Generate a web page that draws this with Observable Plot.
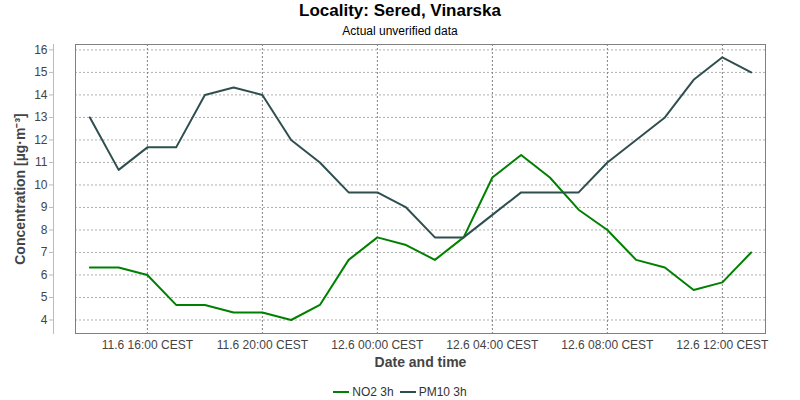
<!DOCTYPE html>
<html>
<head>
<meta charset="utf-8">
<script src="https://cdn.jsdelivr.net/npm/d3@7"></script>
<script src="https://cdn.jsdelivr.net/npm/@observablehq/plot@0.6"></script>
<style>
  html, body { margin: 0; padding: 0; background: #fff; }
  body { width: 800px; height: 400px; overflow: hidden; font-family: "Liberation Sans", Arial, sans-serif; }
  #title { height: 22px; line-height: 22px; text-align: center; font-size: 17px; font-weight: bold; color: #000; }
  #subtitle { height: 18px; line-height: 18px; text-align: center; font-size: 12px; color: #000; }
  #legend { height: 22px; line-height: 22px; text-align: center; font-size: 12px; color: #333; }
  .item { display: inline-flex; align-items: center; margin: 0 3px; }
  .sw { display: inline-block; width: 16px; height: 2px; margin-right: 3px; }
  svg { display: block; }
</style>
</head>
<body>
<div id="title">Locality: Sered, Vinarska</div>
<div id="subtitle">Actual unverified data</div>
<div id="chart"></div>
<div id="legend"></div>
<script>
// Hourly timestamps (local CEST, stored as UTC for display)
const times = [
  "2024-06-11T14:00Z","2024-06-11T15:00Z","2024-06-11T16:00Z","2024-06-11T17:00Z",
  "2024-06-11T18:00Z","2024-06-11T19:00Z","2024-06-11T20:00Z","2024-06-11T21:00Z",
  "2024-06-11T22:00Z","2024-06-11T23:00Z","2024-06-12T00:00Z","2024-06-12T01:00Z",
  "2024-06-12T02:00Z","2024-06-12T03:00Z","2024-06-12T04:00Z","2024-06-12T05:00Z",
  "2024-06-12T06:00Z","2024-06-12T07:00Z","2024-06-12T08:00Z","2024-06-12T09:00Z",
  "2024-06-12T10:00Z","2024-06-12T11:00Z","2024-06-12T12:00Z","2024-06-12T13:00Z"
];
const no2 = [6.33, 6.33, 6, 4.67, 4.67, 4.33, 4.33, 4, 4.67, 6.67, 7.67, 7.33,
             6.67, 7.67, 10.33, 11.33, 10.33, 8.9, 8, 6.67, 6.33, 5.33, 5.67, 7];
const pm10 = [13, 10.67, 11.67, 11.67, 14, 14.33, 14, 12, 11, 9.67, 9.67, 9,
              7.67, 7.67, 8.67, 9.67, 9.67, 9.67, 11, 12, 13, 14.67, 15.67, 15];
const seriesNames = ["NO2 3h", "PM10 3h"];
const seriesColors = ["#008000", "#2f4f4f"];
const xDomain = ["2024-06-11T13:30Z", "2024-06-12T13:30Z"];
const xTicks = ["2024-06-11T16:00Z","2024-06-11T20:00Z","2024-06-12T00:00Z",
                "2024-06-12T04:00Z","2024-06-12T08:00Z","2024-06-12T12:00Z"];
const yTicks = [4, 5, 6, 7, 8, 9, 10, 11, 12, 13, 14, 15, 16];
const yDomain = [3.4, 16.24];
const yLabel = "Concentration [µg·m⁻³]";
const xLabel = "Date and time";

const data = [];
times.forEach((t, i) => {
  data.push({time: new Date(t), value: no2[i], series: seriesNames[0]});
});
times.forEach((t, i) => {
  data.push({time: new Date(t), value: pm10[i], series: seriesNames[1]});
});
const tickDates = xTicks.map(d => new Date(d));
const fmt = d3.utcFormat("%-d.%-m %H:%M");

const chart = Plot.plot({
  width: 800,
  height: 338,
  marginLeft: 75,
  marginRight: 35,
  marginTop: 4,
  marginBottom: 45,
  style: {fontFamily: "'Liberation Sans', Arial, sans-serif", fontSize: "12px", color: "#444", background: "#fff"},
  x: {type: "utc", domain: xDomain.map(d => new Date(d))},
  y: {domain: yDomain},
  color: {domain: seriesNames, range: seriesColors},
  marks: [
    Plot.gridY(yTicks, {stroke: "#b0b0b0", strokeOpacity: 1, strokeDasharray: "2,2"}),
    Plot.gridX(tickDates, {stroke: "#808080", strokeOpacity: 1, strokeDasharray: "2,2"}),
    Plot.frame({stroke: "#808080"}),
    Plot.frame({anchor: "left", stroke: "#bbb", dx: -22}),
    Plot.axisY(yTicks, {anchor: "left", dx: -22, tickSize: 4, tickPadding: 2, label: null, fontSize: 12, stroke: "#bbb", fill: "#444"}),
    Plot.axisX(tickDates, {anchor: "bottom", tickSize: 0, tickPadding: 7, label: null, fontSize: 12, fill: "#444",
      tickFormat: d => fmt(d) + " CEST"}),
    Plot.line(data, {x: "time", y: "value", z: "series", stroke: "series", strokeWidth: 2}),
    Plot.text([yLabel], {frameAnchor: "left", rotate: -90, dx: -55, textAnchor: "middle", fontSize: 14, fontWeight: "bold", fill: "#444"}),
    Plot.text([xLabel], {frameAnchor: "bottom", dy: 29, textAnchor: "middle", lineAnchor: "middle", fontSize: 14, fontWeight: "bold", fill: "#444"})
  ]
});
document.getElementById("chart").appendChild(chart);

const legend = document.getElementById("legend");
seriesNames.forEach((name, i) => {
  const item = document.createElement("span");
  item.className = "item";
  const sw = document.createElement("span");
  sw.className = "sw";
  sw.style.background = seriesColors[i];
  item.appendChild(sw);
  item.appendChild(document.createTextNode(name));
  legend.appendChild(item);
});
</script>
</body>
</html>
